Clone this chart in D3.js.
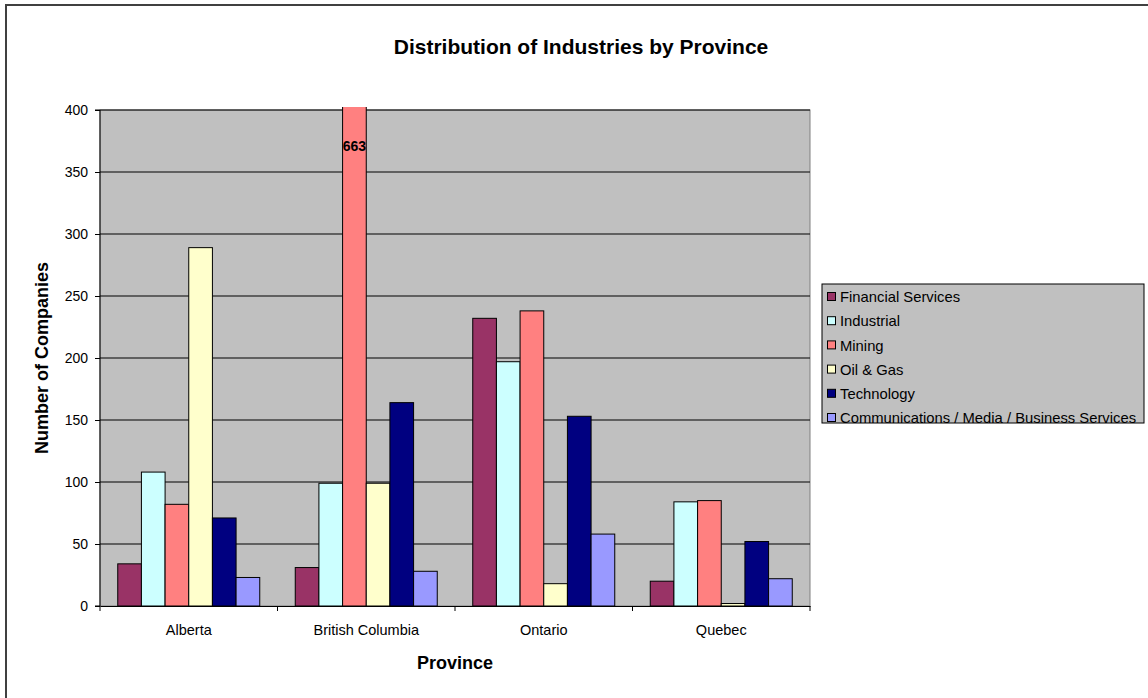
<!DOCTYPE html>
<html>
<head>
<meta charset="utf-8">
<script src="https://cdn.jsdelivr.net/npm/d3@7"></script>
<style>
  html, body { margin: 0; padding: 0; background: #fff; }
  svg { display: block; font-family: "Liberation Sans", Arial, sans-serif; }
</style>
</head>
<body>
<svg id="chart" width="1148" height="698"></svg>
<script>
// Provinces along the x axis
const provinces = ["Alberta", "British Columbia", "Ontario", "Quebec"];

// Industry series (one value per province)
const industries = [
  "Financial Services",
  "Industrial",
  "Mining",
  "Oil & Gas",
  "Technology",
  "Communications / Media / Business Services"
];
const financialServices = [34, 31, 232, 20];
const industrial        = [108, 99, 197, 84];
const mining            = [82, 663, 238, 85];
const oilGas            = [289, 99, 18, 2];
const technology        = [71, 164, 153, 52];
const communications    = [23, 28, 58, 22];
const seriesValues = [financialServices, industrial, mining, oilGas, technology, communications];
const seriesColors = ["#993366", "#CCFFFF", "#FF8080", "#FFFFCC", "#000080", "#9999FF"];

// Value axis
const yTicks = [0, 50, 100, 150, 200, 250, 300, 350, 400];
const yMax = 400;

const FONT = "'Liberation Sans', Arial, sans-serif";
const svg = d3.select("#chart");

// Chart area frame
svg.append("rect")
  .attr("x", 6).attr("y", 5).attr("width", 1160).attr("height", 720)
  .attr("fill", "#fff").attr("stroke", "#404040").attr("stroke-width", 2);

const plot = { left: 100, top: 110, right: 810, bottom: 606 };

const x0 = d3.scaleBand().domain(provinces).range([plot.left, plot.right]).padding(0);
const y = d3.scaleLinear().domain([0, yMax]).range([plot.bottom, plot.top]);

// Plot area background
svg.append("rect")
  .attr("x", plot.left).attr("y", plot.top)
  .attr("width", plot.right - plot.left).attr("height", plot.bottom - plot.top)
  .attr("fill", "#C0C0C0").attr("stroke", "#808080").attr("stroke-width", 1);

// Horizontal gridlines
svg.append("g").selectAll("line")
  .data(yTicks.filter(t => t > 0))
  .join("line")
  .attr("x1", plot.left).attr("x2", plot.right)
  .attr("y1", d => y(d)).attr("y2", d => y(d))
  .attr("stroke", "#000").attr("stroke-width", 1);

// Bars, clipped a few pixels above the plot top
svg.append("clipPath").attr("id", "plotClip")
  .append("rect")
  .attr("x", plot.left).attr("y", plot.top - 3)
  .attr("width", plot.right - plot.left).attr("height", plot.bottom - plot.top + 3);

// 150% gap between clusters: 6 bars + 1.5 bar widths per category
const barW = x0.bandwidth() / (industries.length + 1.5);
const barX = d => x0(d.province) + barW * 0.75 + d.series * barW;
const barData = [];
provinces.forEach((p, pi) => {
  seriesValues.forEach((vals, si) => {
    barData.push({ province: p, series: si, value: vals[pi] });
  });
});

svg.append("g").attr("clip-path", "url(#plotClip)")
  .selectAll("rect")
  .data(barData)
  .join("rect")
  .attr("x", barX)
  .attr("y", d => y(d.value))
  .attr("width", barW)
  .attr("height", d => y(0) - y(d.value))
  .attr("fill", d => seriesColors[d.series])
  .attr("stroke", "#000").attr("stroke-width", 1);

// Value label for the bar that runs past the axis maximum
const overflow = barData.filter(d => d.value > yMax);
svg.append("g").selectAll("text")
  .data(overflow)
  .join("text")
  .attr("x", d => barX(d) + barW / 2)
  .attr("y", y(yMax) + 41)
  .attr("text-anchor", "middle")
  .attr("font-size", 14).attr("font-weight", "bold")
  .attr("fill", "#000")
  .text(d => d.value);

// Y axis
const yAxis = d3.axisLeft(y).tickValues(yTicks).tickSize(5).tickPadding(7);
const gy = svg.append("g").attr("transform", `translate(${plot.left},0)`).call(yAxis);
gy.attr("font-size", 14).attr("font-family", FONT);
gy.select(".domain").attr("stroke", "#000").attr("d", `M-5,${plot.bottom}H0V${plot.top}H-5`);
gy.selectAll(".tick line").attr("stroke", "#000");
gy.selectAll(".tick text").attr("fill", "#000");

// X axis
const xAxis = d3.axisBottom(x0).tickSize(0).tickPadding(19);
const gx = svg.append("g").attr("transform", `translate(0,${plot.bottom})`).call(xAxis);
gx.attr("font-size", 14.5).attr("font-family", FONT);
gx.select(".domain").attr("stroke", "#000");
gx.selectAll(".tick text").attr("fill", "#000");
// Tick marks at category boundaries
gx.append("g").selectAll("line")
  .data(provinces.map(p => x0(p)).concat([plot.right]))
  .join("line")
  .attr("x1", d => d).attr("x2", d => d)
  .attr("y1", 0).attr("y2", 5)
  .attr("stroke", "#000");

// Titles
svg.append("text")
  .attr("x", 581).attr("y", 54)
  .attr("text-anchor", "middle")
  .attr("font-size", 21).attr("font-weight", "bold")
  .text("Distribution of Industries by Province");

svg.append("text")
  .attr("x", 455).attr("y", 669)
  .attr("text-anchor", "middle")
  .attr("font-size", 18).attr("font-weight", "bold")
  .text("Province");

svg.append("text")
  .attr("transform", `translate(48,358) rotate(-90)`)
  .attr("text-anchor", "middle")
  .attr("font-size", 18).attr("font-weight", "bold")
  .text("Number of Companies");

// Legend
const legend = svg.append("g");
legend.append("rect")
  .attr("x", 822).attr("y", 284).attr("width", 322).attr("height", 139)
  .attr("fill", "#C0C0C0").attr("stroke", "#000").attr("stroke-width", 1);
const rowY = d3.scalePoint().domain(d3.range(industries.length)).range([297, 418]);
const rows = legend.selectAll("g.row")
  .data(industries)
  .join("g").attr("class", "row")
  .attr("transform", (d, i) => `translate(0,${rowY(i)})`);
rows.append("rect")
  .attr("x", 827.5).attr("y", -4.5).attr("width", 8).attr("height", 8)
  .attr("fill", (d, i) => seriesColors[i]).attr("stroke", "#000").attr("stroke-width", 1);
rows.append("text")
  .attr("x", 840).attr("y", 0).attr("dy", "0.35em")
  .attr("font-size", 14.8)
  .text(d => d);
</script>
</body>
</html>
